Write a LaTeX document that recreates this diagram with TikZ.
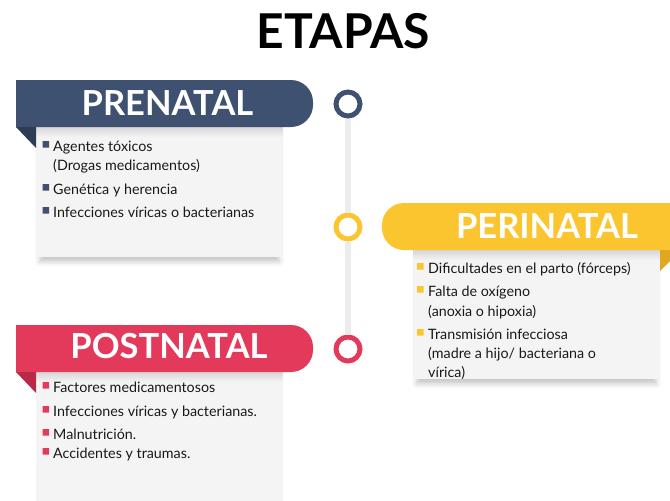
\documentclass[tikz,border=0pt]{standalone}
\usepackage{fontspec}
\setmainfont{Lato}
\usepackage{tikz}
\usetikzlibrary{shadings,shadows.blur}
\definecolor{slate blue}{rgb}{0.2471, 0.3176, 0.4392}
\definecolor{slate dark}{rgb}{0.1804, 0.2392, 0.3255}
\definecolor{sun yellow}{rgb}{0.9843, 0.7725, 0.1843}
\definecolor{sun dark}{rgb}{0.8863, 0.6549, 0.1216}
\definecolor{rose red}{rgb}{0.8902, 0.2275, 0.3569}
\definecolor{rose dark}{rgb}{0.7216, 0.1647, 0.2824}
\definecolor{card gray}{rgb}{0.9569, 0.9569, 0.9569}
\definecolor{line gray}{rgb}{0.9255, 0.9255, 0.9255}
\definecolor{ink}{rgb}{0.1, 0.1, 0.1}

\begin{document}
\begin{tikzpicture}[x=1pt, y=-1pt,
		card shadow/.style={blur shadow={shadow xshift=0pt, shadow yshift=-7pt, shadow scale=0.97, shadow blur radius=5pt, shadow opacity=22}},
		dot/.style={circle, line width=5pt, fill=white, minimum size=24pt, inner sep=0},
		label text/.style={inner sep=0, text=white, font=\fontsize{34.5}{34.5}\selectfont\bfseries},
		item text/.style={inner sep=0, anchor=base west, text=ink, font=\fontsize{14.3}{16}\selectfont}]
			\useasboundingbox (0, 0) rectangle (670, 501);
			\clip (0, 0) rectangle (670, 501);
			% title
			\node (title) [inner sep=0, font=\fontsize{48}{48}\selectfont\bfseries] at (343.5, 31) {ETAPAS};
			% timeline
			\node (pre dot) [dot, draw=slate blue] at (348, 104) {};
			\node (peri dot) [dot, draw=sun yellow] at (348, 227) {};
			\node (post dot) [dot, draw=rose red] at (348, 349) {};
			\draw[line gray, line width=6pt] (pre dot) -- (peri dot) -- (post dot);
			% part for PRENATAL
			\begin{scope}
				\fill[card gray, card shadow] (36, 127) rectangle (283, 257);
				\shade[top color=black!16, bottom color=card gray] (36, 127) rectangle (283, 137);
				\fill[slate blue] (16, 127) -- (16, 80) [rounded corners=22pt] -- (313, 80) -- (313, 127) [sharp corners] -- cycle;
				\fill[slate dark] (16, 127) -- (36, 127) -- (36, 148) -- cycle;
				\node (pre label) [label text] at (167.5, 103) {PRENATAL};
				\fill[slate blue] (42.5, 141) rectangle (49, 147.5)
					(42.5, 184) rectangle (49, 190.5)
					(42.5, 207) rectangle (49, 213.5);
				\node (pre a) [item text] at (53, 151) {Agentes tóxicos};
				\node (pre b) [item text] at (53, 170) {(Drogas medicamentos)};
				\node (pre c) [item text] at (53, 194) {Genética y herencia};
				\node (pre d) [item text] at (53, 217) {Infecciones víricas o bacterianas};
			\end{scope}
			% part for PERINATAL
			\begin{scope}
				\fill[card gray, card shadow] (413, 250) rectangle (660, 379);
				\shade[top color=black!16, bottom color=card gray] (413, 250) rectangle (660, 260);
				\fill[sun yellow] (700, 203) [rounded corners=22pt] -- (382, 203) -- (382, 250) [sharp corners] -- (700, 250) -- cycle;
				\fill[sun dark] (660, 250) -- (681, 250) -- (660, 271) -- cycle;
				\node (peri label) [label text] at (547, 226.5) {PERINATAL};
				\fill[sun yellow] (417, 263) rectangle (423.5, 269.5)
					(417, 286) rectangle (423.5, 292.5)
					(417, 329) rectangle (423.5, 335.5);
				\node (peri a) [item text] at (428, 273) {Dificultades en el parto (fórceps)};
				\node (peri b) [item text] at (428, 296) {Falta de oxígeno};
				\node (peri c) [item text] at (428, 316) {(anoxia o hipoxia)};
				\node (peri d) [item text] at (428, 339) {Transmisión infecciosa};
				\node (peri e) [item text] at (428, 358) {(madre a hijo/ bacteriana o};
				\node (peri f) [item text] at (428, 377) {vírica)};
			\end{scope}
			% part for POSTNATAL
			\begin{scope}
				\fill[card gray] (36, 372) rectangle (283, 501);
				\shade[top color=black!16, bottom color=card gray] (36, 372) rectangle (283, 382);
				\fill[rose red] (16, 372) -- (16, 325) [rounded corners=22pt] -- (313, 325) -- (313, 372) [sharp corners] -- cycle;
				\fill[rose dark] (16, 372) -- (36, 372) -- (36, 393) -- cycle;
				\node (post label) [label text] at (169, 346.5) {POSTNATAL};
				\fill[rose red] (42.5, 382) rectangle (49, 388.5)
					(42.5, 406) rectangle (49, 412.5)
					(42.5, 429) rectangle (49, 435.5)
					(42.5, 448) rectangle (49, 454.5);
				\node (post a) [item text] at (53, 392) {Factores medicamentosos};
				\node (post b) [item text] at (53, 416) {Infecciones víricas y bacterianas.};
				\node (post c) [item text] at (53, 439) {Malnutrición.};
				\node (post d) [item text] at (53, 458) {Accidentes y traumas.};
			\end{scope}
		\end{tikzpicture}
\end{document}
